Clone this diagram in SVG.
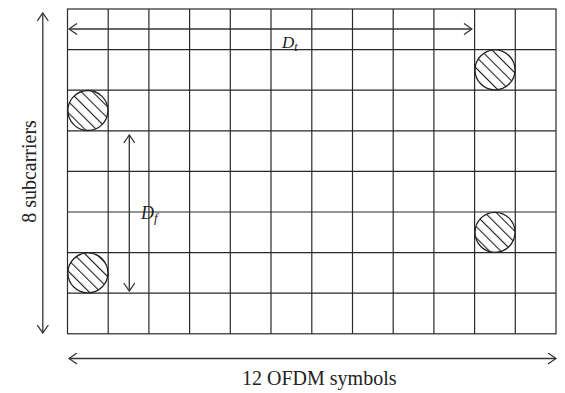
<svg xmlns="http://www.w3.org/2000/svg" width="565" height="393" viewBox="0 0 565 393">
<style>
.g{stroke:#2a2a2a;stroke-width:1.2;fill:none}
.a{stroke:#333;stroke-width:1.3;fill:none}
.c{stroke:#222;stroke-width:1.3;fill:url(#h)}
.t{font-family:"Liberation Serif",serif;fill:#222}
</style>
<defs>
<pattern id="h" width="8" height="8" patternUnits="userSpaceOnUse" patternTransform="rotate(-45)">
<rect width="8" height="8" fill="#fff"/>
<line x1="0" y1="0" x2="0" y2="8" stroke="#222" stroke-width="2.2"/>
</pattern>
<marker id="m" viewBox="0 0 10 12" refX="9" refY="6" markerWidth="10" markerHeight="12" markerUnits="userSpaceOnUse" orient="auto-start-reverse">
<path d="M1,0.5 L9,6 L1,11.5" fill="none" stroke="#333" stroke-width="1.3"/>
</marker>
</defs>
<rect width="565" height="393" fill="#fff"/>
<g id="grid" class="g">
<rect x="67.5" y="9" width="488.5" height="324.8"/>
<path d="M108.2,9V333.8M148.9,9V333.8M189.6,9V333.8M230.3,9V333.8M271,9V333.8M311.8,9V333.8M352.5,9V333.8M393.2,9V333.8M433.9,9V333.8M474.6,9V333.8M515.3,9V333.8"/>
<path d="M67.5,49.6H556M67.5,90.2H556M67.5,130.8H556M67.5,171.4H556M67.5,212H556M67.5,252.6H556M67.5,293.2H556"/>
</g>
<g id="pilots">
<circle id="p1" class="c" cx="87.9" cy="110.5" r="20"/>
<circle id="p2" class="c" cx="495" cy="69.9" r="20"/>
<circle id="p3" class="c" cx="495" cy="232.3" r="20"/>
<circle id="p4" class="c" cx="87.9" cy="272.9" r="20"/>
</g>
<g id="connectors" class="a">
<line x1="69" y1="29" x2="472" y2="29" marker-start="url(#m)" marker-end="url(#m)"/>
<line x1="42.8" y1="13" x2="42.8" y2="333" marker-start="url(#m)" marker-end="url(#m)"/>
<line x1="129.3" y1="135" x2="129.3" y2="291" marker-start="url(#m)" marker-end="url(#m)"/>
<line x1="69" y1="358.5" x2="556" y2="358.5" marker-start="url(#m)" marker-end="url(#m)"/>
</g>
<g id="labels" class="t">
<text x="282" y="48" font-size="17" font-style="italic">D<tspan font-size="12" dy="3">t</tspan></text>
<text x="141" y="219" font-size="18" font-style="italic">D<tspan font-size="13" dy="3">f</tspan></text>
<text x="242" y="385" font-size="20">12 OFDM symbols</text>
<text transform="translate(36,171.5) rotate(-90)" font-size="20" text-anchor="middle">8 subcarriers</text>
</g>
</svg>
